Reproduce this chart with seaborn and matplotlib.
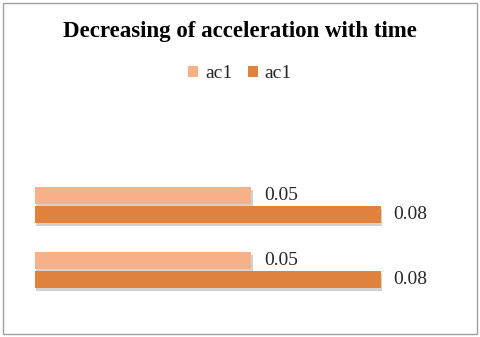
import matplotlib
matplotlib.use('Agg')
import matplotlib.pyplot as plt
import matplotlib.patheffects as pe
from matplotlib.patches import Rectangle, Patch
import pandas as pd
import seaborn as sns

categories = ['1', '2']
series_names = ['ac1', 'ac1']
series_a = [0.05, 0.05]
series_b = [0.08, 0.08]
colors = ['#F6B189', '#DE823D']

rows = []
for i, c in enumerate(categories):
    rows.append({'cat': c, 'series': 's1', 'value': series_a[i]})
    rows.append({'cat': c, 'series': 's2', 'value': series_b[i]})
df = pd.DataFrame(rows)

sns.set_style('white')
plt.rcParams['font.family'] = ['Liberation Serif', 'DejaVu Serif']

fig = plt.figure(figsize=(4.8, 3.37), dpi=100)
ax = fig.add_axes([0.073, 0.102, 0.901, 0.386])

sns.barplot(data=df, x='value', y='cat', hue='series', hue_order=['s1', 's2'],
            palette=colors, saturation=1, orient='h', width=0.58, gap=0.1, ax=ax,
            legend=False, errorbar=None)

shadow = [pe.SimplePatchShadow(offset=(1, -2), shadow_rgbFace='#808080', alpha=0.35), pe.Normal()]
for p in ax.patches:
    p.set_path_effects(shadow)
    p.set_edgecolor('none')

for cont in ax.containers:
    ax.bar_label(cont, labels=[f'{v:.2f}' for v in cont.datavalues],
                 padding=9, fontsize=14, color='#262626')

ax.set_xlim(0, 0.1)
ax.set_xlabel('')
ax.set_ylabel('')
ax.set_xticks([])
ax.set_yticks([])
sns.despine(ax=ax, left=True, bottom=True)

handles = [Patch(facecolor=c, edgecolor='none') for c in colors]
fig.legend(handles, series_names, loc='center', bbox_to_anchor=(0.5, 0.782),
           ncol=2, frameon=False, fontsize=14, handlelength=0.5, handleheight=0.5,
           handletextpad=0.35, columnspacing=0.8)

fig.text(0.5, 0.907, 'Decreasing of acceleration with time', ha='center', va='center',
         fontsize=16.5, fontweight='bold', color='black')

fig.patches.append(Rectangle((0.006, 0.008), 0.988, 0.984, transform=fig.transFigure,
                             fill=False, edgecolor='#a0a0a0', linewidth=1))

fig.savefig('out.png', dpi=100)
